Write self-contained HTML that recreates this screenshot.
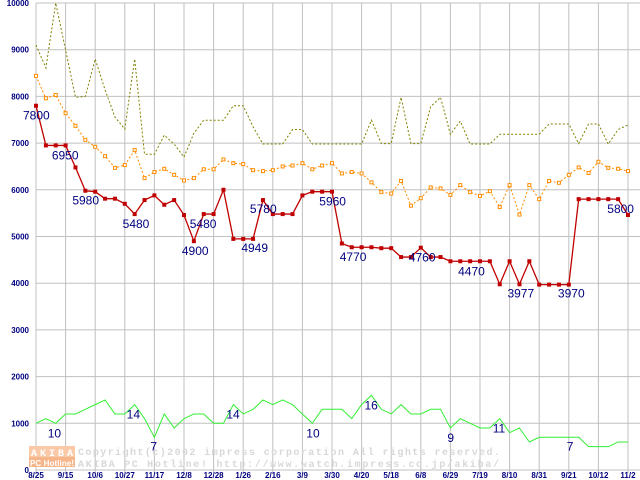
<!DOCTYPE html>
<html><head><meta charset="utf-8"><style>
html,body{margin:0;padding:0;background:#fff;}
svg{display:block;font-family:"Liberation Sans",sans-serif;}
</style></head><body>
<svg id="c" width="640" height="480" viewBox="0 0 640 480"></svg>
<script>
const dates=["8/25","9/15","10/6","10/27","11/17","12/8","12/28","1/26","2/16","3/9","3/30","4/20","5/18","6/8","6/29","7/19","8/10","8/31","9/21","10/12","11/2"];
const yTicks=[0,1000,2000,3000,4000,5000,6000,7000,8000,9000,10000];
const maxPrice=[9100,8610,10000,8990,7980,8000,8800,8140,7560,7300,8800,6760,6760,7170,6980,6700,7210,7490,7490,7490,7800,7800,7350,6980,6980,6980,7290,7290,6980,6980,6980,6980,6980,6980,7490,6990,6990,7980,6990,6990,7780,7980,7190,7470,6980,6980,6980,7190,7190,7190,7190,7190,7410,7410,7410,6990,7410,7410,6980,7290,7390];
const avgPrice=[8440,7960,8030,7640,7370,7070,6920,6720,6470,6530,6850,6250,6380,6450,6320,6200,6250,6440,6440,6650,6570,6550,6420,6400,6420,6500,6520,6570,6440,6520,6570,6350,6380,6350,6160,5950,5920,6190,5660,5820,6050,6030,5890,6100,5950,5870,5970,5630,6100,5470,6100,5800,6190,6150,6320,6480,6360,6600,6470,6450,6400];
const minPrice=[7800,6950,6950,6950,6480,5980,5960,5810,5810,5700,5480,5780,5880,5680,5780,5460,4900,5480,5480,6000,4949,4949,4949,5780,5480,5480,5480,5880,5960,5960,5960,4850,4770,4770,4770,4750,4750,4560,4560,4760,4560,4560,4470,4470,4470,4470,4470,3977,4470,3977,4470,3970,3970,3970,3970,5800,5800,5800,5800,5800,5460];
const shopCount=[10,11,10,12,12,13,14,15,12,12,14,11,7,12,9,11,12,12,10,10,14,12,13,15,14,15,14,12,10,13,13,13,11,14,16,13,12,14,12,12,13,13,9,11,10,9,9,11,8,9,6,7,7,7,7,7,5,5,5,6,6];
const minLabelIdx=[0,1,5,10,16,17,20,23,28,32,39,44,49,53,58];
const minLabelOff=[[-13,14],[6,14],[-13,14],[-12,14],[-12,14],[-14,14],[8,13],[-13,13],[7,14],[-12,14],[-12,14],[-12,14],[-12,13],[-1,13],[-1,14]];
const cntLabelIdx=[2,10,12,20,28,34,42,47,54];
const cntLabelOff=[[-8,14],[-8,14],[-4,13],[-7,14],[-6,14],[-7,14],[-3,14],[-7,14],[-2,13]];

const svg=document.getElementById('c');
const NS='http://www.w3.org/2000/svg';
const L=36,T=3,B=470,R=640,N=60;
const X=i=>L+i*(592/N);
const Y=v=>B-v*(B-T)/10000;
function mk(tag,attrs,parent){const e=document.createElementNS(NS,tag);for(const k in attrs)e.setAttribute(k,attrs[k]);(parent||svg).appendChild(e);return e;}

const grid=mk('g',{});


yTicks.forEach(v=>{
  const l=mk('line',{x1:L,x2:R,y1:Y(v),y2:Y(v),stroke:'#c0c0c0','stroke-width':1},grid);
  
  
  const t=mk('text',{x:29,y:Y(v)+3,'text-anchor':'end','font-size':8,'font-weight':'bold',fill:'#000080'});
  t.textContent=v;
  
  
});
dates.forEach((d,k)=>{
  const x=X(k*3);
  const l=mk('line',{x1:x,x2:x,y1:T,y2:B+3,stroke:'#c0c0c0','stroke-width':1},grid);
  
  
  const t=mk('text',{x:x,y:478,'text-anchor':'middle','font-size':8,'font-weight':'bold',fill:'#000080'});
  t.textContent=d;
  
  
});

// watermark
const wm=mk('g',{});


mk('rect',{x:29,y:446,width:46,height:11,fill:'#f9c9a8'},wm);
mk('rect',{x:29,y:457,width:46,height:10,fill:'#f7b58a'},wm);
const w1=mk('text',{x:31,y:456,'font-size':10,'font-weight':'bold',fill:'#fff','font-family':'Liberation Mono,monospace',textLength:42},wm);w1.textContent='AKIBA';
const w2=mk('text',{x:30,y:466,'font-size':8,'font-weight':'bold',fill:'#fff',textLength:44},wm);w2.textContent='PC Hotline!';
const w3=mk('text',{x:78,y:455,'font-size':10,'font-weight':'bold',fill:'#d8d8d8','font-family':'Liberation Mono,monospace',textLength:422},wm);w3.textContent='Copyright(c)2002 impress corporation All rights reserved.';
const w4=mk('text',{x:78,y:467,'font-size':10,'font-weight':'bold',fill:'#d8d8d8','font-family':'Liberation Mono,monospace',textLength:421},wm);w4.textContent='AKIBA PC Hotline!  http://www.watch.impress.co.jp/akiba/';

function series(arr,name,scale,attrs){
  const p=mk('polyline',Object.assign({points:arr.map((v,i)=>X(i)+','+Y(v*scale)).join(' '),fill:'none'},attrs));
  
  
  return p;
}
series(shopCount,'shop-count-line',100,{stroke:'#33ee33','stroke-width':1});
series(maxPrice,'max-price-line',1,{stroke:'#808000','stroke-width':1,'stroke-dasharray':'2,2'});
series(avgPrice,'avg-price-line',1,{stroke:'#ff8c00','stroke-width':1,'stroke-dasharray':'2,2'});
avgPrice.forEach((v,i)=>{
  const r=mk('rect',{x:X(i)-1.5,y:Y(v)-1.5,width:3,height:3,fill:'#fff',stroke:'#ff8c00','stroke-width':1});
  
  
});
series(minPrice,'min-price-line',1,{stroke:'#c00000','stroke-width':1.3});
minPrice.forEach((v,i)=>{
  const r=mk('rect',{x:X(i)-2,y:Y(v)-2,width:4,height:4,fill:'#c00000'});
  
  
});
minLabelIdx.forEach((i,k)=>{
  const t=mk('text',{x:X(i)+minLabelOff[k][0],y:Y(minPrice[i])+minLabelOff[k][1],'font-size':12,fill:'#000080'});
  t.textContent=minPrice[i];
  
  
});
cntLabelIdx.forEach((i,k)=>{
  const t=mk('text',{x:X(i)+cntLabelOff[k][0],y:Y(shopCount[i]*100)+cntLabelOff[k][1],'font-size':12,fill:'#000080'});
  t.textContent=shopCount[i];
  
  
});
</script>
</body></html>
